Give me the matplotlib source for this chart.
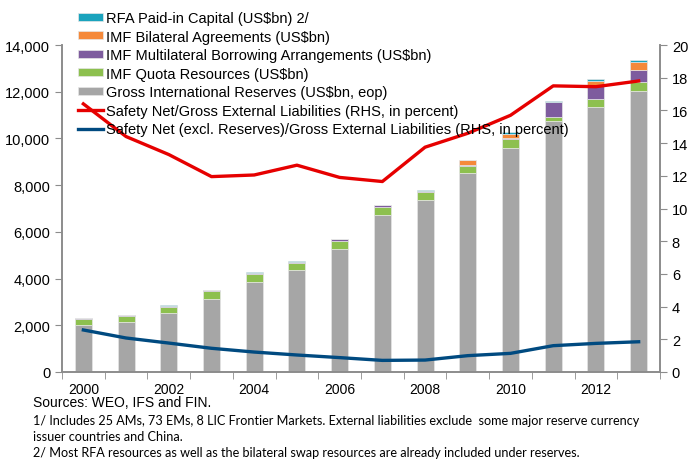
import numpy as np
import matplotlib.pyplot as plt
from matplotlib.ticker import FuncFormatter, FixedLocator

plt.rcParams['font.family'] = ['Liberation Sans', 'DejaVu Sans']

years = list(range(2000, 2014))
reserves = [2010, 2130, 2530, 3140, 3840, 4370, 5270, 6720, 7360, 8510, 9590, 10760, 11330, 12020]
quota = [260, 250, 270, 320, 360, 310, 340, 340, 360, 330, 390, 150, 360, 390]
mba = [40, 40, 40, 40, 40, 40, 80, 80, 40, 40, 40, 640, 600, 540]
bilateral = [0, 0, 0, 0, 0, 0, 0, 0, 0, 190, 170, 0, 180, 320]
rfa = [20, 20, 20, 20, 20, 20, 20, 20, 20, 20, 100, 70, 70, 100]
safety_net = [16.4, 14.4, 13.3, 11.95, 12.05, 12.65, 11.9, 11.65, 13.75, 14.6, 15.7, 17.5, 17.45, 17.8]
safety_excl = [2.57, 2.08, 1.77, 1.45, 1.22, 1.04, 0.88, 0.71, 0.73, 1.0, 1.14, 1.61, 1.75, 1.85]

c_res = '#A6A6A6'
c_quota = '#8DC04F'
c_mba = '#7E5C9E'
c_bil = '#F5893A'
c_rfa = '#1AA3BD'
c_red = '#E60000'
c_blue = '#004A80'
spine_c = '#8C8C8C'

fig = plt.figure(figsize=(6.88, 4.6), dpi=100)
ax = fig.add_axes([62/688, 87/460, 598/688, 327/460])
ax2 = ax.twinx()

x = np.arange(len(years))
w = 0.4
bottom = np.zeros(len(years))
series = [(reserves, c_res, 'Gross International Reserves (US$bn, eop)'),
          (quota, c_quota, 'IMF Quota Resources (US$bn)'),
          (mba, c_mba, 'IMF Multilateral Borrowing Arrangements (US$bn)'),
          (bilateral, c_bil, 'IMF Bilateral Agreements (US$bn)'),
          (rfa, c_rfa, 'RFA Paid-in Capital (US$bn) 2/')]
bars = {}
for vals, col, lab in series:
    bars[lab] = ax.bar(x, vals, w, bottom=bottom, color=col, edgecolor='#E6E6E6',
                       linewidth=0.5, label=lab)
    bottom += np.array(vals)

l1, = ax2.plot(x, safety_net, color=c_red, lw=2.4,
               label='Safety Net/Gross External Liabilities (RHS, in percent)')
l2, = ax2.plot(x, safety_excl, color=c_blue, lw=2.4,
               label='Safety Net (excl. Reserves)/Gross External Liabilities (RHS, in percent)')

ax.set_xlim(-0.5, 13.5)
ax.set_ylim(0, 14000)
ax2.set_ylim(0, 20)
ax.set_yticks(range(0, 14001, 2000))
ax.yaxis.set_major_formatter(FuncFormatter(lambda v, p: f'{int(v):,}'))
ax2.set_yticks(range(0, 21, 2))

ax.set_xticks(x[::2])
ax.set_xticklabels([str(y) for y in years[::2]])
ax.xaxis.set_minor_locator(FixedLocator(np.arange(-0.5, 14, 1)))
ax.tick_params(axis='x', which='major', length=0, labelsize=10, pad=7)
ax.tick_params(axis='x', which='minor', length=5, color=spine_c)
ax.tick_params(axis='y', length=5, color=spine_c, labelsize=10.5)
ax2.tick_params(axis='y', length=5, color=spine_c, labelsize=10.5)

for a in (ax, ax2):
    a.spines['top'].set_visible(False)
    for s in ('left', 'right', 'bottom'):
        a.spines[s].set_color(spine_c)
        a.spines[s].set_linewidth(1.2)

order = ['RFA Paid-in Capital (US$bn) 2/', 'IMF Bilateral Agreements (US$bn)',
         'IMF Multilateral Borrowing Arrangements (US$bn)', 'IMF Quota Resources (US$bn)',
         'Gross International Reserves (US$bn, eop)']
handles = [bars[k] for k in order] + [l1, l2]
labels = order + [l1.get_label(), l2.get_label()]
leg = fig.legend(handles, labels, loc='upper left', bbox_to_anchor=(78/688, 1 - 12/460),
                 frameon=False, fontsize=10.5, labelspacing=0.31, handlelength=1.7,
                 handleheight=0.45, handletextpad=0.2, borderpad=0, borderaxespad=0)
leg.set_zorder(10)

fig.text(33/688, 1 - 403/460, 'Sources: WEO, IFS and FIN.', fontsize=10, va='center')
foot = dict(fontsize=9.1, va='center', family=['Lato', 'DejaVu Sans'])
fig.text(33/688, 1 - 421/460, '1/ Includes 25 AMs, 73 EMs, 8 LIC Frontier Markets. External liabilities exclude  some major reserve currency', **foot)
fig.text(33/688, 1 - 437/460, 'issuer countries and China.', **foot)
fig.text(33/688, 1 - 453/460, '2/ Most RFA resources as well as the bilateral swap resources are already included under reserves.', **foot)

fig.savefig('out.png', dpi=100)
